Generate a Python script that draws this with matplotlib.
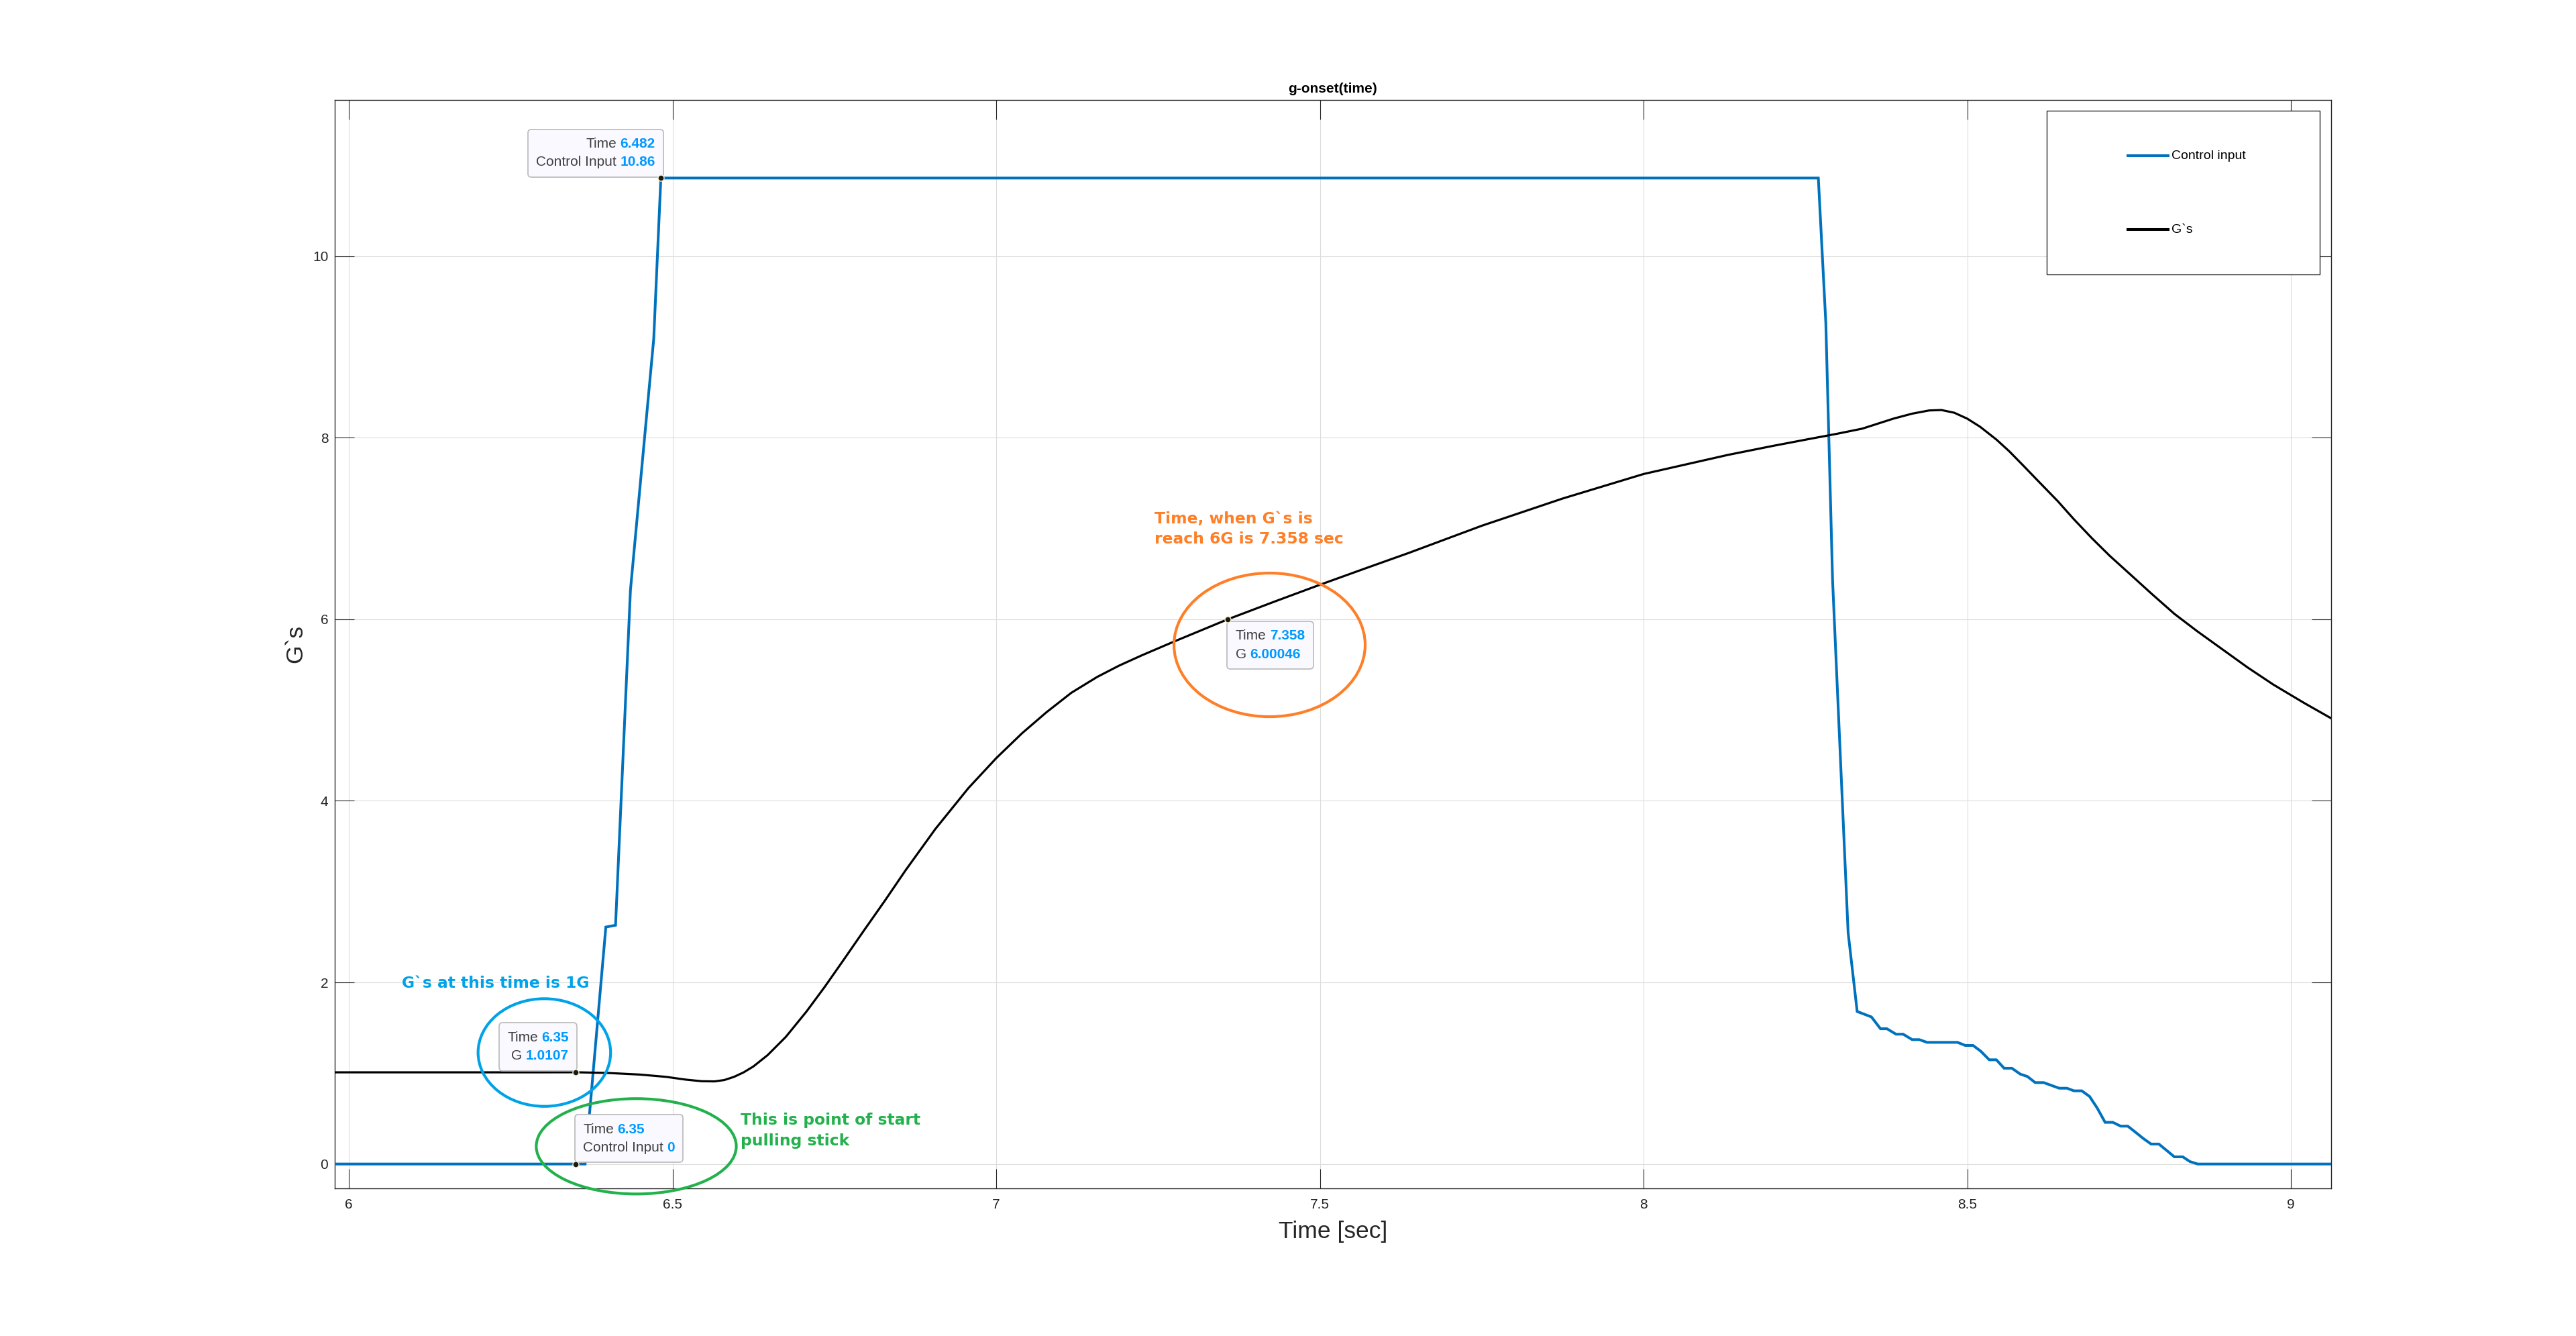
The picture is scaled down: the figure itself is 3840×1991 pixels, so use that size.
import matplotlib
matplotlib.use("Agg")
import matplotlib.pyplot as plt
from matplotlib.patches import Ellipse, Rectangle
from matplotlib.lines import Line2D
from matplotlib.offsetbox import TextArea, HPacker, VPacker, AnnotationBbox

# ---------------- data ----------------
ci_t = [5.97, 6.35, 6.365, 6.397, 6.412, 6.435, 6.471, 6.482, 8.270, 8.2816,
        8.292, 8.316, 8.330, 8.352, 8.366, 8.376, 8.390, 8.401, 8.415, 8.426,
        8.438, 8.485, 8.497, 8.509, 8.521, 8.534, 8.545, 8.557, 8.569, 8.582,
        8.593, 8.605, 8.618, 8.642, 8.654, 8.665, 8.677, 8.689, 8.701, 8.713,
        8.725, 8.737, 8.748, 8.760, 8.772, 8.784, 8.796, 8.808, 8.820, 8.833,
        8.844, 8.856, 9.08]
ci_v = [0, 0, 0, 2.61, 2.63, 6.32, 9.09, 10.86, 10.86, 9.26,
        6.43, 2.55, 1.68, 1.62, 1.49, 1.49, 1.43, 1.43, 1.37, 1.37,
        1.34, 1.34, 1.306, 1.306, 1.242, 1.148, 1.148, 1.055, 1.055, 0.99,
        0.964, 0.897, 0.897, 0.835, 0.835, 0.806, 0.806, 0.744, 0.614, 0.459,
        0.459, 0.417, 0.417, 0.350, 0.281, 0.220, 0.220, 0.150, 0.079, 0.079,
        0.027, 0.0, 0.0]

gs_t = [5.97, 6.0, 6.1, 6.2, 6.3, 6.35, 6.40, 6.45, 6.49, 6.52, 6.545,
        6.565, 6.580, 6.595, 6.610, 6.625, 6.647, 6.675, 6.707, 6.735, 6.763,
        6.795, 6.828, 6.860, 6.906, 6.957, 7.000, 7.040, 7.0775, 7.116, 7.156,
        7.190, 7.2256, 7.2765, 7.358, 7.43, 7.50, 7.57, 7.637, 7.75, 7.875,
        8.0, 8.13, 8.20, 8.259, 8.30, 8.338, 8.386, 8.415, 8.441, 8.46, 8.48,
        8.50, 8.52, 8.545, 8.565, 8.587, 8.61, 8.64, 8.665, 8.693, 8.72,
        8.751, 8.785, 8.82, 8.855, 8.894, 8.933, 8.973, 9.02, 9.062, 9.08]
gs_v = [1.01, 1.01, 1.01, 1.01, 1.01, 1.0107, 1.003, 0.985, 0.96, 0.93, 0.912,
        0.910, 0.925, 0.960, 1.010, 1.075, 1.200, 1.400, 1.680, 1.950, 2.235,
        2.565, 2.900, 3.235, 3.690, 4.140, 4.470, 4.745, 4.975, 5.190, 5.365,
        5.490, 5.605, 5.760, 6.0005, 6.195, 6.380, 6.560, 6.730, 7.030, 7.330,
        7.600, 7.810, 7.910, 7.990, 8.045, 8.100, 8.210, 8.265, 8.300, 8.305, 8.275,
        8.210, 8.120, 7.980, 7.850, 7.690, 7.520, 7.300, 7.100, 6.890, 6.700,
        6.500, 6.280, 6.060, 5.870, 5.670, 5.470, 5.280, 5.080, 4.910, 4.840]

x_ticks = [6, 6.5, 7, 7.5, 8, 8.5, 9]
x_tick_labels = ["6", "6.5", "7", "7.5", "8", "8.5", "9"]
y_ticks = [0, 2, 4, 6, 8, 10]
y_tick_labels = ["0", "2", "4", "6", "8", "10"]

# data tips: (x, y, [(label, value), ...], box centre, alignment)
tips = [
    (6.482, 10.86, [("Time", "6.482"), ("Control Input", "10.86")], (6.3815, 11.134), "right"),
    (6.35, 1.0107, [("Time", "6.35"), ("G", "1.0107")], (6.2922, 1.2912), "right"),
    (6.35, 0.0, [("Time", "6.35"), ("Control Input", "0")], (6.4326, 0.2809), "left"),
    (7.358, 6.00046, [("Time", "7.358"), ("G", "6.00046")], (7.4232, 5.7147), "left"),
]

BLUE = "#0072BD"
FONT = "Liberation Sans"

fig = plt.figure(figsize=(38.4, 19.91), dpi=100)
ax = fig.add_axes([0.12995, 0.11050, 0.77487, 0.81467])

ax.plot(ci_t, ci_v, color=BLUE, lw=2.9, solid_joinstyle="miter", zorder=3)
ax.plot(gs_t, gs_v, color="black", lw=2.3, zorder=3)

ax.set_xlim(5.97824, 9.06166)
ax.set_ylim(-0.2683, 11.720)
ax.set_xticks(x_ticks)
ax.set_xticklabels(x_tick_labels)
ax.set_yticks(y_ticks)
ax.set_yticklabels(y_tick_labels)
ax.tick_params(direction="in", length=20.9, width=0.8, color="#262626",
               top=True, right=True, labelsize=15, labelcolor="#262626")
ax.tick_params(axis="x", pad=11)
ax.tick_params(axis="y", pad=7)
for lab in ax.get_xticklabels() + ax.get_yticklabels():
    lab.set_fontfamily(FONT)
ax.grid(True, color="#DCDCDC", lw=0.8)
ax.set_axisbelow(True)
for s in ax.spines.values():
    s.set_color("#262626")
    s.set_linewidth(1.0)

ax.set_xlabel("Time [sec]", fontsize=25.5, family=FONT, color="#262626")
ax.xaxis.set_label_coords(0.5, -0.040)
ax.xaxis.label.set_va("center")
ax.set_ylabel("G`s", fontsize=25.5, family=FONT, color="#262626")
ax.yaxis.set_label_coords(-0.0195, 0.5)
ax.yaxis.label.set_va("center")

fig.text(1986.75 / 3840, 1 - 132 / 1991, "g-onset(time)", ha="center", va="center",
         fontsize=15, fontweight="bold", family=FONT, color="black")

# legend (MATLAB-style stretched box)
ax.add_patch(Rectangle((0.8577, 0.8397), 0.9945 - 0.8577, 0.9901 - 0.8397,
                       transform=ax.transAxes, fc="white", ec="#262626", lw=1.0, zorder=6))
for yy, col, lw, lab in [(0.9488, BLUE, 2.9, "Control input"), (0.8810, "black", 2.9, "G`s")]:
    ax.add_line(Line2D([0.8983, 0.9185], [yy, yy], transform=ax.transAxes,
                       color=col, lw=lw, zorder=7))
    ax.text(0.9202, yy, lab, transform=ax.transAxes, va="center", ha="left",
            fontsize=14, family=FONT, color="black", zorder=7)

# data tips
for (px, py, rows, centre, align) in tips:
    packs = []
    for lab, val in rows:
        packs.append(HPacker(children=[
            TextArea(lab, textprops=dict(color="#404040", fontsize=15, family=FONT)),
            TextArea(val, textprops=dict(color="#0099FF", fontsize=15, fontweight="bold", family=FONT)),
        ], pad=0, sep=4, align="baseline"))
    box = VPacker(children=packs, align=align, pad=0, sep=6)
    ab = AnnotationBbox(box, centre, xycoords="data", frameon=True, pad=0.6,
                        fontsize=15, box_alignment=(0.5, 0.5),
                        bboxprops=dict(boxstyle="round,pad=0.6,rounding_size=0.25",
                                       fc="#F9F9FF", ec="#B9B9B9", lw=1.2),
                        zorder=8)
    ax.add_artist(ab)
    ax.plot([px], [py], "o", ms=6.5, mfc="#1A1A1A", mec="#F4F2C8", mew=1.0, zorder=9)

# hand-drawn annotation ellipses and notes
ax.add_patch(Ellipse((7.4223, 5.718), 0.2953, 1.582, fill=False, ec="#FF7F27", lw=3.0, zorder=10, clip_on=False))
ax.add_patch(Ellipse((6.302, 1.228), 0.2047, 1.1855, fill=False, ec="#00A2E8", lw=3.0, zorder=10, clip_on=False))
ax.add_patch(Ellipse((6.444, 0.195), 0.309, 1.05, fill=False, ec="#22B14C", lw=3.0, zorder=10, clip_on=False))

ax.text(6.0819, 1.986, "G`s at this time is 1G", color="#00A2E8", fontsize=16.8,
        fontweight="bold", family="DejaVu Sans", va="center", ha="left", zorder=10)
ax.text(6.6048, 0.367, "This is point of start\npulling stick", color="#22B14C", fontsize=16.8,
        fontweight="bold", family="DejaVu Sans", va="center", ha="left", linespacing=1.45, zorder=10)
ax.text(7.2446, 6.995, "Time, when G`s is\nreach 6G is 7.358 sec", color="#FF7F27", fontsize=16.8,
        fontweight="bold", family="DejaVu Sans", va="center", ha="left", linespacing=1.4, zorder=10)

fig.savefig("out.png", dpi=100, facecolor="white")
